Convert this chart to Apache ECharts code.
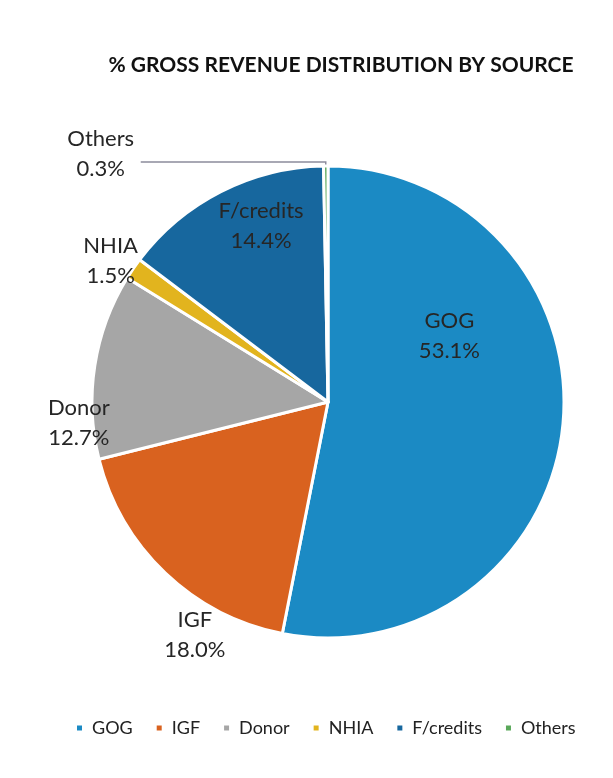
<!DOCTYPE html>
<html>
<head>
<meta charset="utf-8">
<script src="https://cdn.jsdelivr.net/npm/echarts@6/dist/echarts.min.js"></script>
<style>
html,body{margin:0;padding:0;background:#fff;}
#chart{width:613px;height:778px;}
</style>
</head>
<body>
<div id="chart"></div>
<script>
const categories = ['GOG', 'IGF', 'Donor', 'NHIA', 'F/credits', 'Others'];
const shares = [53.1, 18.0, 12.7, 1.5, 14.4, 0.3];
const colors = ['#1b8ac4', '#d9621f', '#a6a6a6', '#e2b41e', '#17679e', '#5aa85a'];

// label placement per slice: inside or outside, plus small nudges
const labelPos = ['inside', 'outside', 'outside', 'outside', 'inside', 'outside'];
const labelNudge = [[1, -78], [40, 56], [-3, 58], [-11, -3], [-12, -68], [-35, -8]];

const chart = echarts.init(document.getElementById('chart'));
const FONT = 'Lato';

const data = categories.map((c, i) => ({
  name: c,
  value: shares[i],
  itemStyle: { color: colors[i] },
  label: { position: labelPos[i] },
  labelLine: i === 5
    ? { show: true, length: 4, length2: 185 }
    : { show: false, length: 8, length2: 0 }
}));

chart.setOption({
  backgroundColor: '#ffffff',
  animation: false,
  title: {
    text: '% GROSS REVENUE DISTRIBUTION BY SOURCE',
    left: 336,
    textAlign: 'center',
    top: 50,
    textStyle: { fontFamily: FONT, fontWeight: 'bold', fontSize: 21, color: '#111' }
  },
  legend: {
    bottom: 36,
    left: 70,
    icon: 'rect',
    itemWidth: 7,
    itemHeight: 7,
    itemGap: 22,
    textStyle: { fontFamily: FONT, fontSize: 18, color: '#222', padding: [0, 0, 0, 4] },
    data: categories
  },
  series: [{
    type: 'pie',
    center: [328, 402],
    radius: 236,
    startAngle: 90,
    clockwise: true,
    avoidLabelOverlap: false,
    itemStyle: { borderColor: '#fff', borderWidth: 3 },
    label: {
      show: true,
      formatter: p => p.name + '\n' + p.value.toFixed(1) + '%',
      fontFamily: FONT,
      fontSize: 22,
      lineHeight: 30,
      color: '#262626'
    },
    labelLine: { lineStyle: { color: '#8c8c9c', width: 1.5 } },
    labelLayout: function (params) {
      const n = labelNudge[params.dataIndex];
      return { dx: n[0], dy: n[1], align: 'center' };
    },
    data: data
  }]
});
</script>
</body>
</html>
